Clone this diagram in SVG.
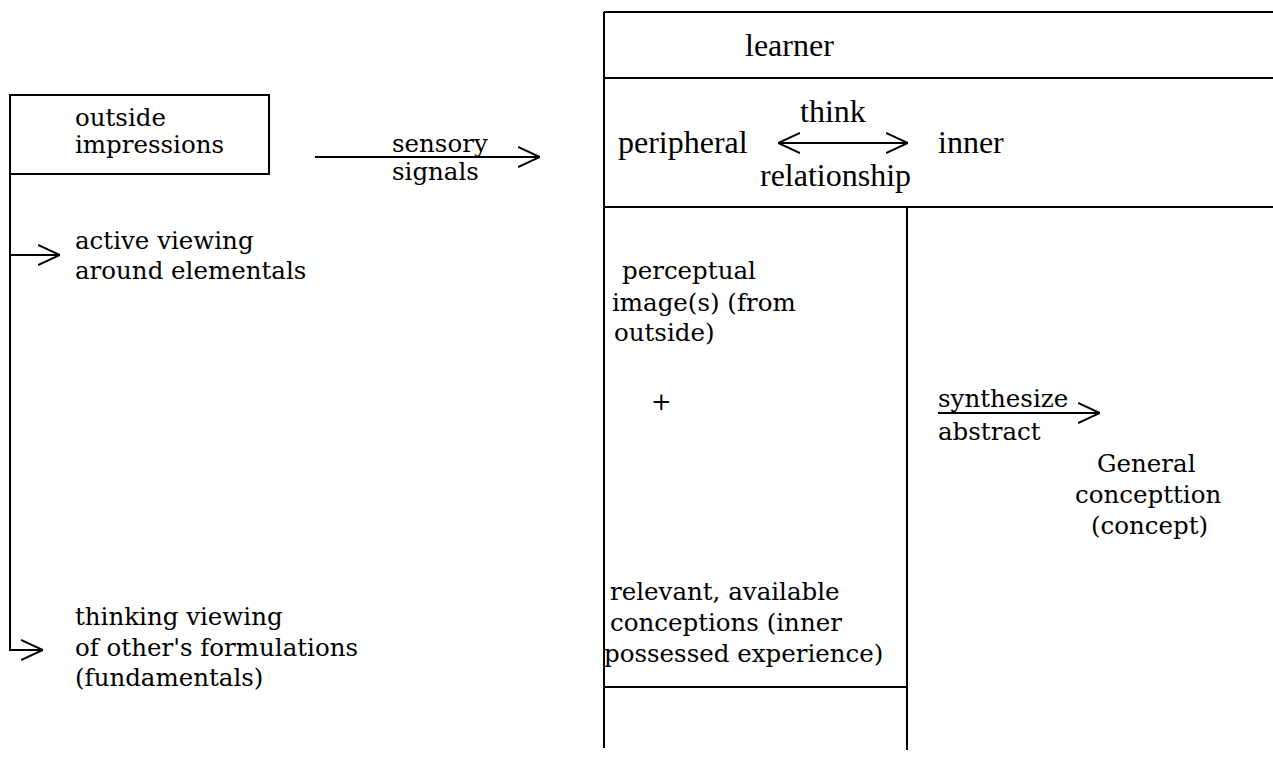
<svg xmlns="http://www.w3.org/2000/svg" width="1273" height="758" viewBox="0 0 1273 758">
<defs>
<style>
.ln{stroke:#000;stroke-width:2;fill:none}
.t{font-family:"DejaVu Serif",serif;font-size:24.5px;fill:#000}
.c{font-family:"Liberation Serif",serif;font-size:32px;fill:#000}
</style>
<marker id="oa" viewBox="0 0 22 22" refX="22" refY="11" markerWidth="22" markerHeight="22" markerUnits="userSpaceOnUse" orient="auto-start-reverse">
<path d="M0,1 L22,11 L0,21" fill="none" stroke="#000" stroke-width="2"/>
</marker>
</defs>
<rect width="1273" height="758" fill="#fff"/>
<g id="outside">
<rect class="ln" x="10" y="95" width="259" height="79"/>
<text class="t" x="75" y="126">outside</text>
<text class="t" x="75" y="153">impressions</text>
</g>
<g id="active">
<text class="t" x="75" y="249">active viewing</text>
<text class="t" x="75" y="279">around elementals</text>
</g>
<g id="thinking">
<text class="t" x="75" y="625">thinking viewing</text>
<text class="t" x="75" y="656">of other's formulations</text>
<text class="t" x="75" y="686">(fundamentals)</text>
</g>
<g id="learner">
<path class="ln" d="M604,12 H1273 M604,78 H1273 M604,207 H1273 M604,12 V748 M907,207 V750 M604,687 H907"/>
<text class="c" x="745" y="56">learner</text>
<text class="c" x="618" y="153">peripheral</text>
<text class="c" x="800" y="122">think</text>
<text class="c" x="938" y="153">inner</text>
<text class="c" x="760" y="186">relationship</text>
</g>
<g id="perceptual">
<text class="t" x="622" y="279">perceptual</text>
<text class="t" x="612" y="311">image(s) (from</text>
<text class="t" x="614" y="341">outside)</text>
<text class="t" x="651" y="410">+</text>
</g>
<g id="relevant">
<text class="t" x="610" y="600">relevant, available</text>
<text class="t" x="610" y="631">conceptions (inner</text>
<text class="t" x="604" y="662">possessed experience)</text>
</g>
<g id="synth">
<text class="t" x="938" y="407">synthesize</text>
<text class="t" x="938" y="440">abstract</text>
</g>
<g id="general">
<text class="t" x="1097" y="472">General</text>
<text class="t" x="1075" y="503">concepttion</text>
<text class="t" x="1091" y="534">(concept)</text>
</g>
<g id="sensory">
<text class="t" x="392" y="152">sensory</text>
<text class="t" x="392" y="180">signals</text>
</g>
<g id="connectors">
<path class="ln" d="M10,174 V650 H43" marker-end="url(#oa)"/>
<path class="ln" d="M10,255 H60" marker-end="url(#oa)"/>
<path class="ln" d="M315,157 H540" marker-end="url(#oa)"/>
<path class="ln" d="M778,143 H908" marker-start="url(#oa)" marker-end="url(#oa)"/>
<path class="ln" d="M938,413 H1100" marker-end="url(#oa)"/>
</g>
</svg>
